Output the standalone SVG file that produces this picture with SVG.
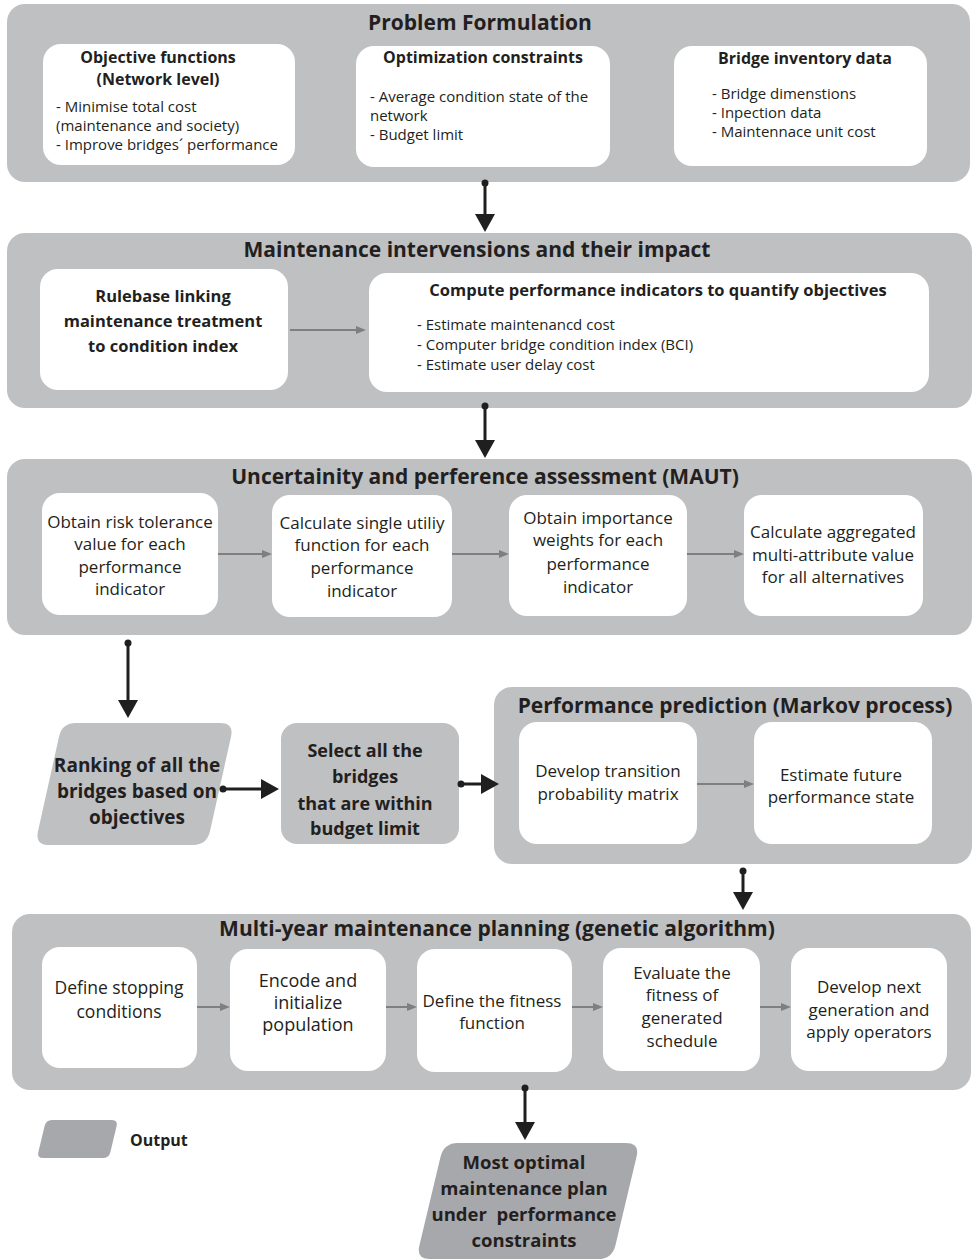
<svg xmlns="http://www.w3.org/2000/svg" width="974" height="1260" viewBox="0 0 974 1260">
<defs>
<style>
text{font-family:"Open Sans","Noto Sans","DejaVu Sans",sans-serif;fill:#231f20}
.sec{fill:#bfc0c2}
.box{fill:#ffffff}
.out{fill:#a7a8ab}
.st{font-size:21px;font-weight:700;text-anchor:middle}
.bt{font-size:16px;font-weight:700;text-anchor:middle}
.it{font-size:15px}
.rb{font-size:16.5px;font-weight:700;text-anchor:middle}
.bx{font-size:17px;text-anchor:middle}
.gb{font-size:18.5px;font-weight:700;text-anchor:middle}
.blk{stroke:#1f1f1f;stroke-width:3;fill:none;marker-end:url(#ah)}
.gry{stroke:#7f7f7f;stroke-width:2;fill:none;marker-end:url(#ag)}
.dot{fill:#1f1f1f}
</style>
<marker id="ah" viewBox="0 0 18 20" markerWidth="18" markerHeight="20" refX="5" refY="10" markerUnits="userSpaceOnUse" orient="auto">
<path d="M0,0 L18,10 L0,20 Z" fill="#1f1f1f"/>
</marker>
<marker id="ag" viewBox="0 0 10 8" markerWidth="10" markerHeight="8" refX="2" refY="4" markerUnits="userSpaceOnUse" orient="auto">
<path d="M0,0 L10,4 L0,8 Z" fill="#7f7f7f"/>
</marker>
</defs>

<g id="problem-formulation">
<rect class="sec" x="7" y="4" width="963" height="178" rx="18"/>
<text class="st" x="480" y="30">Problem Formulation</text>
</g>
<g id="objective-functions">
<rect class="box" x="43" y="44" width="252" height="121" rx="18"/>
<text class="bt" x="158" y="63">Objective functions</text>
<text class="bt" x="158" y="85">(Network level)</text>
<text class="it" x="56" y="112">- Minimise total cost</text>
<text class="it" x="56" y="131">(maintenance and society)</text>
<text class="it" x="56" y="150">- Improve bridges´ performance</text>
</g>
<g id="optimization-constraints">
<rect class="box" x="356" y="46" width="254" height="121" rx="18"/>
<text class="bt" x="483" y="63">Optimization constraints</text>
<text class="it" x="370" y="102">- Average condition state of the</text>
<text class="it" x="370" y="121">network</text>
<text class="it" x="370" y="140">- Budget limit</text>
</g>
<g id="bridge-inventory">
<rect class="box" x="674" y="46" width="253" height="120" rx="18"/>
<text class="bt" x="805" y="64">Bridge inventory data</text>
<text class="it" x="712" y="99">- Bridge dimenstions</text>
<text class="it" x="712" y="118">- Inpection data</text>
<text class="it" x="712" y="137">- Maintennace unit cost</text>
</g>

<g id="maintenance-interventions">
<rect class="sec" x="7" y="233" width="965" height="175" rx="18"/>
<text class="st" x="477" y="257">Maintenance intervensions and their impact</text>
</g>
<g id="rulebase">
<rect class="box" x="40" y="269" width="248" height="121" rx="18"/>
<text class="rb" x="163" y="302">Rulebase linking</text>
<text class="rb" x="163" y="327">maintenance treatment</text>
<text class="rb" x="163" y="352">to condition index</text>
</g>
<g id="compute-indicators">
<rect class="box" x="369" y="273" width="560" height="119" rx="18"/>
<text class="bt" x="658" y="296" style="font-size:16.5px">Compute performance indicators to quantify objectives</text>
<text class="it" x="417" y="330">- Estimate maintenancd cost</text>
<text class="it" x="417" y="350">- Computer bridge condition index (BCI)</text>
<text class="it" x="417" y="370">- Estimate user delay cost</text>
</g>

<g id="maut">
<rect class="sec" x="7" y="459" width="965" height="176" rx="18"/>
<text class="st" x="485" y="484">Uncertainity and perference assessment (MAUT)</text>
</g>
<g id="risk-tolerance">
<rect class="box" x="42" y="493" width="176" height="122" rx="18"/>
<text class="bx" x="130" y="528">Obtain risk tolerance</text>
<text class="bx" x="130" y="550">value for each</text>
<text class="bx" x="130" y="573">performance</text>
<text class="bx" x="130" y="595">indicator</text>
</g>
<g id="single-utility">
<rect class="box" x="272" y="495" width="180" height="122" rx="18"/>
<text class="bx" x="362" y="529">Calculate single utiliy</text>
<text class="bx" x="362" y="551">function for each</text>
<text class="bx" x="362" y="574">performance</text>
<text class="bx" x="362" y="597">indicator</text>
</g>
<g id="importance-weights">
<rect class="box" x="509" y="495" width="178" height="121" rx="18"/>
<text class="bx" x="598" y="524">Obtain importance</text>
<text class="bx" x="598" y="546">weights for each</text>
<text class="bx" x="598" y="570">performance</text>
<text class="bx" x="598" y="593">indicator</text>
</g>
<g id="aggregated-value">
<rect class="box" x="744" y="495" width="179" height="121" rx="18"/>
<text class="bx" x="833" y="538">Calculate aggregated</text>
<text class="bx" x="833" y="561">multi-attribute value</text>
<text class="bx" x="833" y="583">for all alternatives</text>
</g>

<g id="ranking">
<path class="sec" d="M76,723 L220,723 Q234,723 231,736.7 L210,831.3 Q207,845 193,845 L49,845 Q35,845 38,831.3 L59,736.7 Q62,723 76,723 Z"/>
<text class="gb" x="137" y="772" style="font-size:19px">Ranking of all the</text>
<text class="gb" x="137" y="798" style="font-size:19px">bridges based on</text>
<text class="gb" x="137" y="824" style="font-size:19px">objectives</text>
</g>
<g id="select-bridges">
<rect class="sec" x="281" y="723" width="178" height="121" rx="16"/>
<text class="gb" x="365" y="757" style="font-size:18px">Select all the</text>
<text class="gb" x="365" y="783" style="font-size:18px">bridges</text>
<text class="gb" x="365" y="810" style="font-size:18px">that are within</text>
<text class="gb" x="365" y="835" style="font-size:18px">budget limit</text>
</g>

<g id="performance-prediction">
<rect class="sec" x="494" y="687" width="478" height="177" rx="18"/>
<text class="st" x="735" y="713">Performance prediction (Markov process)</text>
</g>
<g id="transition-matrix">
<rect class="box" x="519" y="722" width="178" height="122" rx="18"/>
<text class="bx" x="608" y="777">Develop transition</text>
<text class="bx" x="608" y="800">probability matrix</text>
</g>
<g id="future-state">
<rect class="box" x="754" y="722" width="178" height="122" rx="18"/>
<text class="bx" x="841" y="781">Estimate future</text>
<text class="bx" x="841" y="803">performance state</text>
</g>

<g id="multi-year-planning">
<rect class="sec" x="12" y="914" width="959" height="176" rx="18"/>
<text class="st" x="497" y="936">Multi-year maintenance planning (genetic algorithm)</text>
</g>
<g id="stopping-conditions">
<rect class="box" x="42" y="947" width="155" height="121" rx="18"/>
<text class="bx" x="119" y="994" style="font-size:17.5px">Define stopping</text>
<text class="bx" x="119" y="1018" style="font-size:17.5px">conditions</text>
</g>
<g id="encode-population">
<rect class="box" x="230" y="949" width="156" height="122" rx="18"/>
<text class="bx" x="308" y="987" style="font-size:18px">Encode and</text>
<text class="bx" x="308" y="1009" style="font-size:18px">initialize</text>
<text class="bx" x="308" y="1031" style="font-size:18px">population</text>
</g>
<g id="fitness-function">
<rect class="box" x="417" y="949" width="155" height="123" rx="18"/>
<text class="bx" x="492" y="1007">Define the fitness</text>
<text class="bx" x="492" y="1029">function</text>
</g>
<g id="evaluate-fitness">
<rect class="box" x="603" y="948" width="157" height="123" rx="18"/>
<text class="bx" x="682" y="979">Evaluate the</text>
<text class="bx" x="682" y="1001">fitness of</text>
<text class="bx" x="682" y="1024">generated</text>
<text class="bx" x="682" y="1047">schedule</text>
</g>
<g id="next-generation">
<rect class="box" x="791" y="948" width="156" height="123" rx="18"/>
<text class="bx" x="869" y="993">Develop next</text>
<text class="bx" x="869" y="1016">generation and</text>
<text class="bx" x="869" y="1038">apply operators</text>
</g>

<g id="optimal-plan">
<path class="out" d="M458,1143 L626,1143 Q640,1143 636.6,1156.6 L615.4,1245.4 Q612,1259 598,1259 L430,1259 Q416,1259 419.4,1245.4 L440.6,1156.6 Q444,1143 458,1143 Z"/>
<text class="gb" x="524" y="1169">Most optimal</text>
<text class="gb" x="524" y="1195">maintenance plan</text>
<text class="gb" x="524" y="1221" xml:space="preserve">under  performance</text>
<text class="gb" x="524" y="1247">constraints</text>
</g>
<g id="legend-output">
<path class="out" d="M56,1120 L112,1120 Q118,1120 116.6,1126 L110.4,1152 Q109,1158 103,1158 L43,1158 Q37,1158 38.4,1152 L44.6,1126 Q46,1120 52,1120 Z"/>
<text x="130" y="1146" style="font-size:16px;font-weight:700">Output</text>
</g>

<g id="connectors">
<circle class="dot" cx="485" cy="183" r="3.5"/>
<line class="blk" x1="485" y1="183" x2="485" y2="219"/>
<circle class="dot" cx="485" cy="406" r="3.5"/>
<line class="blk" x1="485" y1="406" x2="485" y2="445"/>
<circle class="dot" cx="128" cy="643" r="3.5"/>
<line class="blk" x1="128" y1="643" x2="128" y2="705"/>
<circle class="dot" cx="223" cy="789" r="3.5"/>
<line class="blk" x1="223" y1="789" x2="266" y2="789"/>
<circle class="dot" cx="461" cy="784" r="3.5"/>
<line class="blk" x1="461" y1="784" x2="486" y2="784"/>
<circle class="dot" cx="743" cy="871" r="3.5"/>
<line class="blk" x1="743" y1="871" x2="743" y2="897"/>
<circle class="dot" cx="525" cy="1088" r="3.5"/>
<line class="blk" x1="525" y1="1088" x2="525" y2="1127"/>

<line class="gry" x1="290" y1="330" x2="358" y2="330"/>
<line class="gry" x1="218" y1="554" x2="264" y2="554"/>
<line class="gry" x1="452" y1="554" x2="501" y2="554"/>
<line class="gry" x1="687" y1="554" x2="736" y2="554"/>
<line class="gry" x1="697" y1="784" x2="746" y2="784"/>
<line class="gry" x1="197" y1="1007" x2="222" y2="1007"/>
<line class="gry" x1="386" y1="1007" x2="409" y2="1007"/>
<line class="gry" x1="572" y1="1007" x2="595" y2="1007"/>
<line class="gry" x1="760" y1="1007" x2="783" y2="1007"/>
</g>
</svg>
